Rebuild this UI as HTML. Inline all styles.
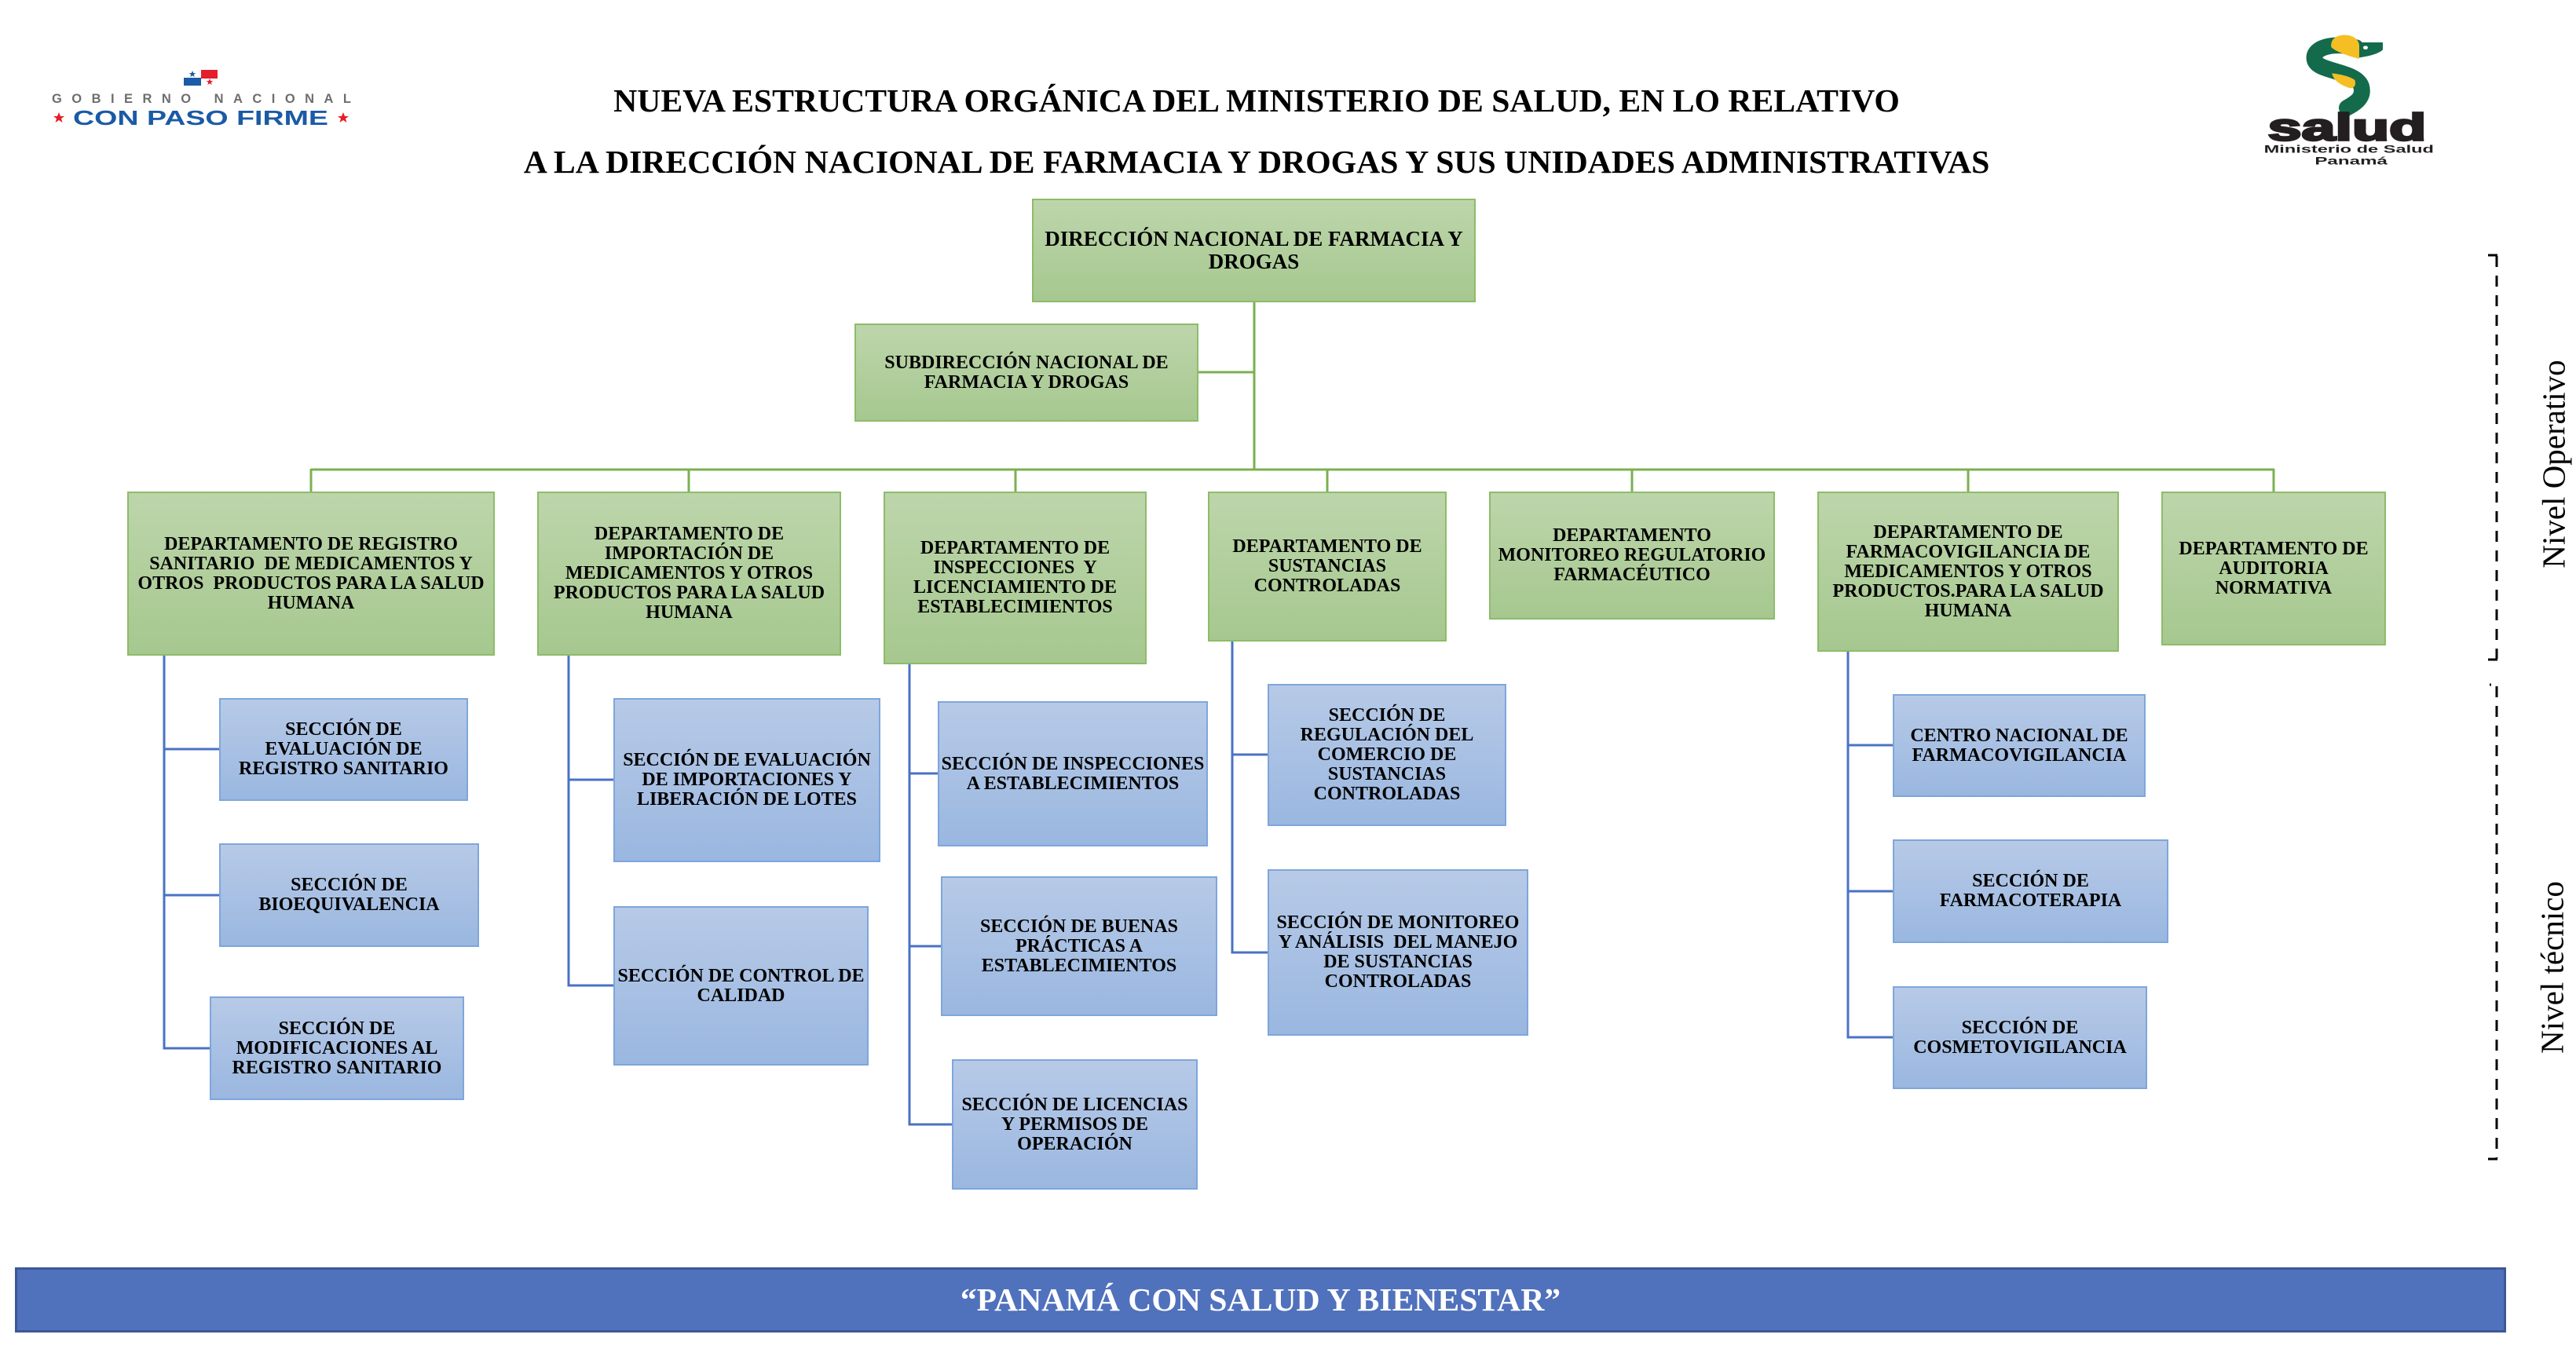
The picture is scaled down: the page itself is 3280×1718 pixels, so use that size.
<!DOCTYPE html>
<html>
<head>
<meta charset="utf-8">
<style>
html,body{margin:0;padding:0;background:#fff;}
body{width:3280px;height:1718px;position:relative;overflow:hidden;font-family:"Liberation Serif","DejaVu Serif",serif;}
.t{position:absolute;left:0;width:3200px;text-align:center;font-weight:bold;font-size:41.7px;line-height:41px;color:#000;white-space:nowrap;}
.b{position:absolute;box-sizing:border-box;display:flex;align-items:center;justify-content:center;text-align:center;font-weight:bold;font-size:24px;line-height:25px;color:#000;white-space:nowrap;}
.g{background:linear-gradient(#bdd5ab,#a6c88f);border:2px solid #8dbc69;}
.s{background:linear-gradient(#b7cae7,#9ab7e0);border:2px solid #7ea6dc;}
.rot{position:absolute;transform:translate(-50%,-50%) rotate(-90deg);font-size:41px;line-height:47px;white-space:nowrap;color:#000;}
</style>
</head>
<body>

<!-- Left logo -->
<svg style="position:absolute;left:0;top:0" width="500" height="200" viewBox="0 0 500 200">
  <rect x="234" y="99" width="22" height="10" fill="#1b5aa5"/>
  <rect x="256" y="89" width="21" height="11" fill="#e31f2b"/>
  <polygon points="245,90 246.2,93 249.3,93 246.8,94.9 247.7,98 245,96.2 242.3,98 243.2,94.9 240.7,93 243.8,93" fill="#1b5aa5"/>
  <polygon points="267,100 268.2,103 271.3,103 268.8,104.9 269.7,108 267,106.2 264.3,108 265.2,104.9 262.7,103 265.8,103" fill="#e31f2b"/>
  <text x="66" y="131" font-family="Liberation Sans, sans-serif" font-weight="bold" font-size="16.5" fill="#6e6e6e" textLength="381" lengthAdjust="spacing">GOBIERNO NACIONAL</text>
  <text x="93" y="159" font-family="Liberation Sans, sans-serif" font-weight="bold" font-size="26" fill="#1b5aa5" textLength="325" lengthAdjust="spacingAndGlyphs">CON PASO FIRME</text>
  <polygon points="75,143 77,148 82,148 78,151 79.5,156 75,153 70.5,156 72,151 68,148 73,148" fill="#e31f2b"/>
  <polygon points="437,143 439,148 444,148 440,151 441.5,156 437,153 432.5,156 434,151 430,148 435,148" fill="#e31f2b"/>
</svg>

<!-- Salud logo -->
<svg style="position:absolute;left:2860px;top:30px" width="260" height="260" viewBox="0 0 780 780">
  <path d="M420,92 C330,70 250,92 262,140 C274,185 420,180 440,240 C452,285 415,305 385,322" fill="none" stroke="#136b4c" stroke-width="62" stroke-linecap="round"/>
  <path d="M432,72 L522,72 L522,100 C505,116 470,124 432,130 Z" fill="#136b4c"/>
  <ellipse cx="456" cy="92" rx="9" ry="7" fill="#fff"/>
  <path d="M325,90 C320,50 360,40 390,45 C420,50 432,70 432,85 L432,135 C395,125 345,110 325,90 Z" fill="#f5be22"/>
  <path d="M328,190 C352,192 400,202 415,216 C422,236 410,250 395,246 C360,236 332,215 328,190 Z" fill="#f5be22"/>
  <text x="83" y="445" font-family="Liberation Sans, sans-serif" font-weight="bold" font-size="146" fill="#231f20" stroke="#231f20" stroke-width="8" textLength="605" lengthAdjust="spacingAndGlyphs">salud</text>
  <text x="68" y="493" font-family="Liberation Sans, sans-serif" font-weight="bold" font-size="42" fill="#231f20" textLength="649" lengthAdjust="spacingAndGlyphs">Ministerio de Salud</text>
  <text x="262" y="538" font-family="Liberation Sans, sans-serif" font-weight="bold" font-size="42" fill="#231f20" textLength="278" lengthAdjust="spacingAndGlyphs">Panamá</text>
</svg>

<!-- Title -->
<div class="t" style="top:109px;">NUEVA ESTRUCTURA ORGÁNICA DEL MINISTERIO DE SALUD, EN LO RELATIVO</div>
<div class="t" style="top:187px;">A LA DIRECCIÓN NACIONAL DE FARMACIA Y DROGAS Y SUS UNIDADES ADMINISTRATIVAS</div>

<!-- Connectors -->
<svg style="position:absolute;left:0;top:0" width="3280" height="1718" viewBox="0 0 3280 1718">
  <g stroke="#7bb052" stroke-width="3" fill="none">
    <line x1="1597" y1="384" x2="1597" y2="599"/>
    <line x1="1525" y1="474" x2="1597" y2="474"/>
    <line x1="396" y1="598" x2="2896" y2="598"/>
    <line x1="396" y1="597" x2="396" y2="627"/>
    <line x1="877" y1="597" x2="877" y2="627"/>
    <line x1="1293" y1="597" x2="1293" y2="627"/>
    <line x1="1690" y1="597" x2="1690" y2="627"/>
    <line x1="2078" y1="597" x2="2078" y2="627"/>
    <line x1="2506" y1="597" x2="2506" y2="627"/>
    <line x1="2895" y1="597" x2="2895" y2="627"/>
  </g>
  <g stroke="#4a72c4" stroke-width="3" fill="none">
    <polyline points="209,834 209,1335 268,1335"/>
    <line x1="209" y1="954" x2="280" y2="954"/>
    <line x1="209" y1="1140" x2="280" y2="1140"/>
    <polyline points="724,834 724,1255 782,1255"/>
    <line x1="724" y1="993" x2="782" y2="993"/>
    <polyline points="1158,845 1158,1432 1213,1432"/>
    <line x1="1158" y1="985" x2="1195" y2="985"/>
    <line x1="1158" y1="1205" x2="1199" y2="1205"/>
    <polyline points="1569,816 1569,1213 1615,1213"/>
    <line x1="1569" y1="961" x2="1615" y2="961"/>
    <polyline points="2353,829 2353,1321 2411,1321"/>
    <line x1="2353" y1="949" x2="2411" y2="949"/>
    <line x1="2353" y1="1135" x2="2411" y2="1135"/>
  </g>
  <g stroke="#000" stroke-width="3" fill="none">
    <line x1="3179" y1="326" x2="3179" y2="839" stroke-dasharray="14 11"/>
    <line x1="3168" y1="325" x2="3180" y2="325"/>
    <line x1="3168" y1="840" x2="3180" y2="840"/>
    <line x1="3179" y1="874" x2="3179" y2="1475" stroke-dasharray="14 11"/>
    <line x1="3170" y1="872" x2="3172" y2="872"/>
    <line x1="3168" y1="1476" x2="3180" y2="1476"/>
  </g>
</svg>

<!-- Top level -->
<div class="b g" style="left:1314px;top:253px;width:565px;height:132px;font-size:27px;line-height:29px;">DIRECCIÓN NACIONAL DE FARMACIA Y<br>DROGAS</div>
<div class="b g" style="left:1088px;top:412px;width:438px;height:125px;">SUBDIRECCIÓN NACIONAL DE<br>FARMACIA Y DROGAS</div>

<!-- Departments -->
<div class="b g" style="left:162px;top:626px;width:468px;height:209px;">DEPARTAMENTO DE REGISTRO<br>SANITARIO&nbsp; DE MEDICAMENTOS Y<br>OTROS&nbsp; PRODUCTOS PARA LA SALUD<br>HUMANA</div>
<div class="b g" style="left:684px;top:626px;width:387px;height:209px;">DEPARTAMENTO DE<br>IMPORTACIÓN DE<br>MEDICAMENTOS Y OTROS<br>PRODUCTOS PARA LA SALUD<br>HUMANA</div>
<div class="b g" style="left:1125px;top:626px;width:335px;height:220px;">DEPARTAMENTO DE<br>INSPECCIONES&nbsp; Y<br>LICENCIAMIENTO DE<br>ESTABLECIMIENTOS</div>
<div class="b g" style="left:1538px;top:626px;width:304px;height:191px;">DEPARTAMENTO DE<br>SUSTANCIAS<br>CONTROLADAS</div>
<div class="b g" style="left:1896px;top:626px;width:364px;height:163px;">DEPARTAMENTO<br>MONITOREO REGULATORIO<br>FARMACÉUTICO</div>
<div class="b g" style="left:2314px;top:626px;width:384px;height:204px;">DEPARTAMENTO DE<br>FARMACOVIGILANCIA DE<br>MEDICAMENTOS Y OTROS<br>PRODUCTOS.PARA LA SALUD<br>HUMANA</div>
<div class="b g" style="left:2752px;top:626px;width:286px;height:196px;">DEPARTAMENTO DE<br>AUDITORIA<br>NORMATIVA</div>

<!-- Sections -->
<div class="b s" style="left:279px;top:889px;width:317px;height:131px;">SECCIÓN DE<br>EVALUACIÓN DE<br>REGISTRO SANITARIO</div>
<div class="b s" style="left:279px;top:1074px;width:331px;height:132px;">SECCIÓN DE<br>BIOEQUIVALENCIA</div>
<div class="b s" style="left:267px;top:1269px;width:324px;height:132px;">SECCIÓN DE<br>MODIFICACIONES AL<br>REGISTRO SANITARIO</div>

<div class="b s" style="left:781px;top:889px;width:340px;height:209px;">SECCIÓN DE EVALUACIÓN<br>DE IMPORTACIONES Y<br>LIBERACIÓN DE LOTES</div>
<div class="b s" style="left:781px;top:1154px;width:325px;height:203px;">SECCIÓN DE CONTROL DE<br>CALIDAD</div>

<div class="b s" style="left:1194px;top:893px;width:344px;height:185px;">SECCIÓN DE INSPECCIONES<br>A ESTABLECIMIENTOS</div>
<div class="b s" style="left:1198px;top:1116px;width:352px;height:178px;">SECCIÓN DE BUENAS<br>PRÁCTICAS A<br>ESTABLECIMIENTOS</div>
<div class="b s" style="left:1212px;top:1349px;width:313px;height:166px;">SECCIÓN DE LICENCIAS<br>Y PERMISOS DE<br>OPERACIÓN</div>

<div class="b s" style="left:1614px;top:871px;width:304px;height:181px;">SECCIÓN DE<br>REGULACIÓN DEL<br>COMERCIO DE<br>SUSTANCIAS<br>CONTROLADAS</div>
<div class="b s" style="left:1614px;top:1107px;width:332px;height:212px;">SECCIÓN DE MONITOREO<br>Y ANÁLISIS&nbsp; DEL MANEJO<br>DE SUSTANCIAS<br>CONTROLADAS</div>

<div class="b s" style="left:2410px;top:884px;width:322px;height:131px;">CENTRO NACIONAL DE<br>FARMACOVIGILANCIA</div>
<div class="b s" style="left:2410px;top:1069px;width:351px;height:132px;">SECCIÓN DE<br>FARMACOTERAPIA</div>
<div class="b s" style="left:2410px;top:1256px;width:324px;height:131px;">SECCIÓN DE<br>COSMETOVIGILANCIA</div>

<!-- Side labels -->
<div class="rot" style="left:3252px;top:591px;">Nivel Operativo</div>
<div class="rot" style="left:3250px;top:1232px;">Nivel técnico</div>

<!-- Banner -->
<div style="position:absolute;left:19px;top:1614px;width:3172px;height:83px;box-sizing:border-box;background:#5071bc;border:3px solid #3c5897;display:flex;align-items:center;justify-content:center;color:#fff;font-weight:bold;font-size:41.7px;white-space:nowrap;">“PANAMÁ CON SALUD Y BIENESTAR”</div>

</body>
</html>
